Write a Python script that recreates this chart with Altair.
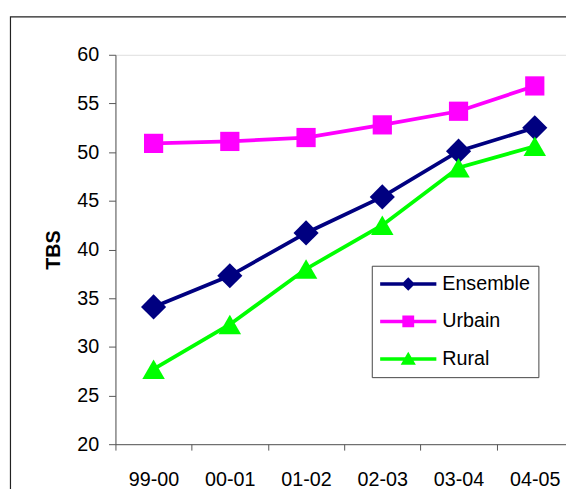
import altair as alt
import pandas as pd

periods = ["99-00", "00-01", "01-02", "02-03", "03-04", "04-05"]
series_names = ["Ensemble", "Urbain", "Rural"]
ensemble = [34.1, 37.3, 41.7, 45.4, 50.1, 52.5]
urbain = [50.9, 51.1, 51.5, 52.8, 54.2, 56.8]
rural = [27.7, 32.3, 38.0, 42.5, 48.4, 50.6]
y_ticks = [20, 25, 30, 35, 40, 45, 50, 55, 60]

colors = ["#000080", "#FF00FF", "#00FF00"]
shapes = ["diamond", "square", "triangle-up"]
marker_sizes = [650, 380, 520]
LINE = "M-1,-0.18L4.7,-0.18L4.7,0.18L-1,0.18Z "
legend_paths = [
    LINE + "M1.85,-0.68L2.53,0L1.85,0.68L1.17,0Z",
    LINE + "M1.25,-0.6L2.45,-0.6L2.45,0.6L1.25,0.6Z",
    LINE + "M1.85,-0.72L2.62,0.6L1.08,0.6Z",
]

rows = []
for name, vals in zip(series_names, [ensemble, urbain, rural]):
    for p, v in zip(periods, vals):
        rows.append({"period": p, "series": name, "value": v})
df = pd.DataFrame(rows)

W, H = 457, 395
FONT = "Liberation Sans"
FS = 20

x_enc = alt.X(
    "period:N",
    sort=periods,
    scale=alt.Scale(type="band", paddingInner=0, paddingOuter=0, range=[0, 464]),
    axis=alt.Axis(
        title=None, tickBand="extent", labelFontSize=FS, labelFont=FONT,
        labelColor="black", tickSize=6, tickColor="#555555", domainColor="#555555",
        labelPadding=20, labelAngle=0, grid=False,
    ),
)
y_enc = alt.Y(
    "value:Q",
    scale=alt.Scale(domain=[20, 60], nice=False, zero=False),
    axis=alt.Axis(
        title="TBS", values=y_ticks, titleFontSize=20, titleFont=FONT,
        titleFontWeight="bold", titleColor="black", titlePadding=14,
        labelFontSize=FS, labelFont=FONT, labelColor="black", tickSize=7,
        tickColor="#555555", domainColor="#555555", labelPadding=10, grid=False,
    ),
)
color_scale = alt.Scale(domain=series_names, range=colors)

leg = dict(
    title=None, orient="none", legendX=260, legendY=214,
    strokeColor="#444444", fillColor="white", padding=8.5,
    labelFontSize=FS, labelFont=FONT, labelColor="black",
    symbolSize=400, symbolOpacity=1, symbolStrokeWidth=0,
    labelOffset=43, rowPadding=18,
)
color_enc = alt.Color("series:N", scale=color_scale, legend=alt.Legend(**leg))

base = alt.Chart(df)

lines = base.mark_line(strokeWidth=3.8).encode(
    x=x_enc, y=y_enc, color=color_enc, detail="series:N",
)

point_layers = []
for name, shp, sz in zip(series_names, shapes, marker_sizes):
    point_layers.append(
        base.transform_filter(alt.datum.series == name)
        .mark_point(filled=True, opacity=1, size=sz, shape=shp)
        .encode(x=x_enc, y=y_enc, color=color_enc)
    )

legend_layer = base.mark_point(filled=True, opacity=0).encode(
    x=x_enc, y=y_enc,
    color=color_enc,
    shape=alt.Shape(
        "series:N", scale=alt.Scale(domain=series_names, range=legend_paths),
        legend=alt.Legend(**leg),
    ),
)

frame = alt.Chart(pd.DataFrame({"a": [0]})).mark_rect(
    fillOpacity=0, stroke="#222222", strokeWidth=1.2
).encode(
    x=alt.value(-106.5), y=alt.value(-38.5), x2=alt.value(W + 60), y2=alt.value(H + 100)
)

chart = alt.layer(frame, lines, *point_layers, legend_layer).properties(
    width=W, height=H,
    autosize=alt.AutoSizeParams(type="none"),
    padding={"left": 109, "top": 44, "right": 0, "bottom": 42},
).configure_view(stroke=None).configure(background="white")

chart.save("out.html", embed_options={"renderer": "svg", "actions": False})
